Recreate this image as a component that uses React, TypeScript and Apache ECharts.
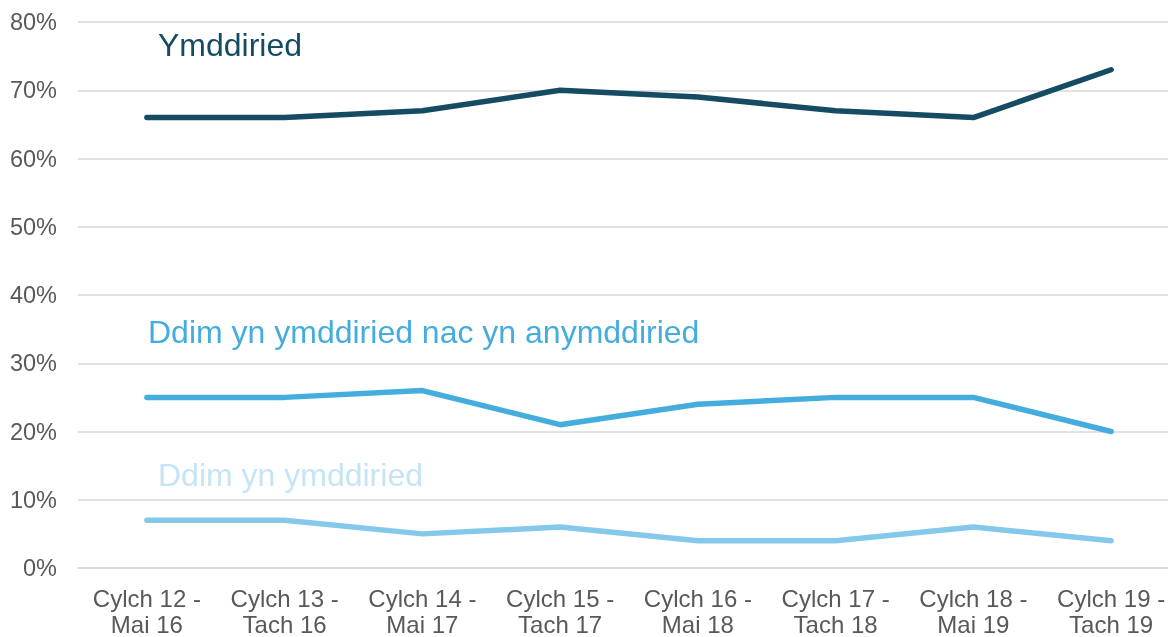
import React, { useEffect, useRef } from "react";
import * as echarts from "echarts";

const categories = [
  "Cylch 12 -\nMai 16",
  "Cylch 13 -\nTach 16",
  "Cylch 14 -\nMai 17",
  "Cylch 15 -\nTach 17",
  "Cylch 16 -\nMai 18",
  "Cylch 17 -\nTach 18",
  "Cylch 18 -\nMai 19",
  "Cylch 19 -\nTach 19",
];
const trust = [66, 66, 67, 70, 69, 67, 66, 73];
const neither = [25, 25, 26, 21, 24, 25, 25, 20];
const distrust = [7, 7, 5, 6, 4, 4, 6, 4];
const seriesNames = [
  "Ymddiried",
  "Ddim yn ymddiried nac yn anymddiried",
  "Ddim yn ymddiried",
];

const FONT = "Liberation Sans, Arial, sans-serif";

export default function App() {
  const ref = useRef<HTMLDivElement>(null);
  useEffect(() => {
    document.body.style.margin = "0";
    document.body.style.overflow = "hidden";
    const chart = echarts.init(ref.current!, null, { renderer: "svg" });
    const mk = (name: string, data: number[], color: string) => ({
      name,
      type: "line",
      data,
      symbol: "none",
      lineStyle: { color, width: 5.5, cap: "round", join: "round" },
      itemStyle: { color },
    });
    chart.setOption({
      animation: false,
      grid: { left: 78, top: 22, width: 1102, height: 555 },
      xAxis: {
        type: "category",
        data: categories,
        boundaryGap: true,
        axisLine: { show: true, lineStyle: { color: "#d9d9d9", width: 1.5 } },
        axisTick: { show: false },
        axisLabel: {
          color: "#595959",
          fontSize: 24,
          fontFamily: FONT,
          lineHeight: 26,
          margin: 17,
          interval: 0,
        },
      },
      yAxis: {
        type: "value",
        min: 0,
        max: 80,
        interval: 10,
        axisLine: { show: false },
        axisTick: { show: false },
        splitLine: { lineStyle: { color: "#d9d9d9", width: 1.5 } },
        axisLabel: {
          formatter: "{value}%",
          color: "#595959",
          fontSize: 23.5,
          fontFamily: FONT,
          margin: 21,
        },
      },
      series: [
        mk(seriesNames[0], trust, "#154B63"),
        mk(seriesNames[1], neither, "#45ADDE"),
        mk(seriesNames[2], distrust, "#85C9EA"),
      ],
      graphic: [
        {
          type: "text",
          left: 158,
          top: 29,
          style: { text: seriesNames[0], fill: "#154B63", font: `32px ${FONT}` },
        },
        {
          type: "text",
          left: 148,
          top: 316,
          style: { text: seriesNames[1], fill: "#45ADDE", font: `32px ${FONT}` },
        },
        {
          type: "text",
          left: 158,
          top: 459,
          style: { text: seriesNames[2], fill: "#C5E4F6", font: `32px ${FONT}` },
        },
      ],
    });
    return () => chart.dispose();
  }, []);
  return (
    <div
      ref={ref}
      style={{ position: "fixed", left: 0, top: 0, width: 1180, height: 637 }}
    />
  );
}
